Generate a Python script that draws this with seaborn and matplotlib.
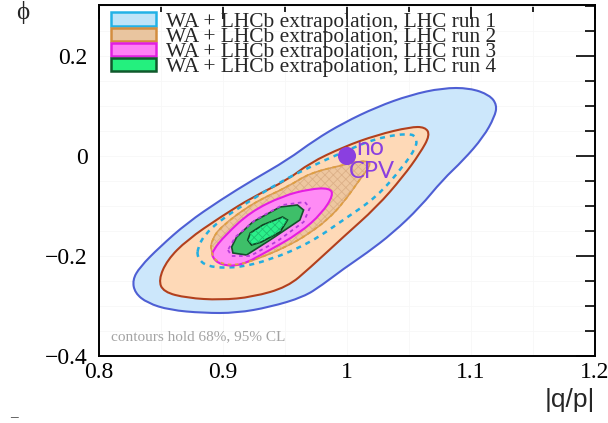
import numpy as np
import matplotlib
matplotlib.use("Agg")
import matplotlib.pyplot as plt
import matplotlib.patches as mpatches
from matplotlib.path import Path
from matplotlib.ticker import MultipleLocator, FuncFormatter
import seaborn as sns

# contour outlines: (|q/p|, phi) vertices
run1_95_x = [0.827, 0.829, 0.839, 0.857, 0.884, 0.911, 0.938, 0.965, 0.980, 0.997, 1.016, 1.037,
             1.059, 1.077, 1.094, 1.110, 1.119, 1.121, 1.115, 1.099, 1.077, 1.051, 1.024, 0.997,
             0.974, 0.952, 0.924, 0.898, 0.871, 0.849, 0.833]
run1_95_y = [-0.248, -0.274, -0.294, -0.308, -0.314, -0.314, -0.302, -0.282, -0.258, -0.226, -0.194, -0.154,
             -0.102, -0.048, -0.008, 0.038, 0.078, 0.102, 0.122, 0.136, 0.136, 0.122, 0.098, 0.066,
             0.032, -0.008, -0.048, -0.088, -0.134, -0.182, -0.222]

run1_68_x = [0.879, 0.887, 0.911, 0.938, 0.970, 0.997, 1.024, 1.045, 1.056, 1.056, 1.051, 1.024,
             0.997, 0.970, 0.946, 0.919, 0.898, 0.885, 0.880]
run1_68_y = [-0.202, -0.222, -0.224, -0.208, -0.174, -0.128, -0.082, -0.022, 0.018, 0.036, 0.046, 0.036,
             0.008, -0.022, -0.052, -0.094, -0.128, -0.158, -0.182]

run2_95_x = [0.848, 0.852, 0.871, 0.898, 0.924, 0.952, 0.970, 0.997, 1.024, 1.045, 1.059, 1.067,
             1.063, 1.051, 1.024, 0.997, 0.970, 0.952, 0.924, 0.898, 0.871, 0.855]
run2_95_y = [-0.248, -0.272, -0.284, -0.288, -0.282, -0.262, -0.224, -0.162, -0.102, -0.042, 0.006, 0.042,
             0.058, 0.058, 0.042, 0.018, -0.014, -0.048, -0.082, -0.122, -0.168, -0.208]

run2_68_x = [0.890, 0.894, 0.910, 0.930, 0.954, 0.970, 0.984, 0.997, 1.010, 1.021, 1.010, 0.997,
             0.970, 0.952, 0.924, 0.898, 0.891]
run2_68_y = [-0.188, -0.212, -0.220, -0.204, -0.178, -0.154, -0.128, -0.094, -0.048, -0.012, -0.010, -0.018,
             -0.034, -0.062, -0.094, -0.142, -0.168]

run3_95_x = [0.891, 0.898, 0.914, 0.935, 0.962, 0.980, 0.989, 0.986, 0.970, 0.948, 0.922, 0.902, 0.892]
run3_95_y = [-0.202, -0.218, -0.220, -0.192, -0.154, -0.114, -0.078, -0.064, -0.066, -0.080, -0.112, -0.158, -0.188]

run3_68_x = [0.904, 0.907, 0.922, 0.944, 0.965, 0.970, 0.966, 0.948, 0.926, 0.910]
run3_68_y = [-0.188, -0.200, -0.200, -0.170, -0.132, -0.104, -0.092, -0.098, -0.128, -0.162]

run4_95_x = [0.907, 0.908, 0.919, 0.938, 0.962, 0.965, 0.960, 0.946, 0.924, 0.911]
run4_95_y = [-0.182, -0.194, -0.198, -0.168, -0.128, -0.108, -0.098, -0.102, -0.132, -0.162]

run4_68_x = [0.920, 0.922, 0.932, 0.948, 0.952, 0.946, 0.931, 0.923]
run4_68_y = [-0.168, -0.154, -0.138, -0.122, -0.128, -0.152, -0.172, -0.178]

no_cpv_x = [1.0]
no_cpv_y = [0.0]

legend_labels = ["WA + LHCb extrapolation, LHC run 1",
                 "WA + LHCb extrapolation, LHC run 2",
                 "WA + LHCb extrapolation, LHC run 3",
                 "WA + LHCb extrapolation, LHC run 4"]
legend_faces = ["#bfe4f8", "#e9c59f", "#ff80f5", "#24f07e"]
legend_edges = ["#22b2e6", "#d38d3e", "#e21fe0", "#10592c"]

x_ticks = [0.8, 0.9, 1.0, 1.1, 1.2]
y_ticks = [-0.4, -0.2, 0.0, 0.2]

sns.set_style("white")
plt.rcParams["font.family"] = ["Liberation Serif", "DejaVu Serif"]
plt.rcParams["hatch.linewidth"] = 0.6

fig = plt.figure(figsize=(6.08, 4.23), dpi=100)
ax = fig.add_axes([0.1628, 0.1584, 0.8158, 0.8298])


def contour_path(xs, ys, smooth=True):
    pts = np.column_stack([xs, ys])
    if not smooth:
        return Path(np.vstack([pts, pts[:1]]), closed=True)
    # closed quadratic spline using the read vertices as control points
    mids = (pts + np.roll(pts, -1, axis=0)) / 2
    verts = [mids[-1]]
    codes = [Path.MOVETO]
    for p, m in zip(pts, mids):
        verts += [p, m]
        codes += [Path.CURVE3, Path.CURVE3]
    return Path(verts, codes)


def region(xs, ys, face, edge, lw=1.4, hatch=None, hatch_color=None, z=2, smooth=True):
    path = contour_path(xs, ys, smooth)
    ax.add_patch(mpatches.PathPatch(path, facecolor=face, edgecolor=edge, linewidth=lw, zorder=z))
    if hatch:
        ax.add_patch(mpatches.PathPatch(path, facecolor="none", edgecolor=hatch_color, linewidth=0,
                                        hatch=hatch, zorder=z + 0.1))


def outline(xs, ys, color, lw=1.8, dash=(0, (2, 2)), z=6, smooth=True):
    path = contour_path(xs, ys, smooth)
    ax.add_patch(mpatches.PathPatch(path, facecolor="none", edgecolor=color, linewidth=lw,
                                    linestyle=dash, zorder=z))


region(run1_95_x, run1_95_y, "#cce7fb", "#4e5fd4", lw=1.5, z=1)
region(run2_95_x, run2_95_y, "#fed9b7", "#b2401d", lw=1.5, z=2)
outline(run1_68_x, run1_68_y, "#23aee0", lw=1.8, z=2.5)
region(run2_68_x, run2_68_y, "#eec7a0", "#d79a55", lw=1.2, hatch="xxxx", hatch_color="#dcb088", z=3)
region(run3_95_x, run3_95_y, "#ff8bf5", "#e51de2", lw=1.5, z=4)
outline(run2_68_x, run2_68_y, "#e0a040", lw=1.3, dash=(0, (2, 2)), z=4.5)
region(run4_95_x, run4_95_y, "#3ebf69", "#15502b", lw=1.2, z=5, smooth=False)
outline(run3_68_x, run3_68_y, "#b53cd8", lw=1.3, dash=(0, (2, 2)), z=5.5, smooth=False)
region(run4_68_x, run4_68_y, "#2bf08a", "#0f4322", lw=1.2, hatch="xxxx", hatch_color="#20c070",
       z=6, smooth=False)

sns.scatterplot(x=no_cpv_x, y=no_cpv_y, ax=ax, s=170, color="#8a3fe0", edgecolor="none", zorder=8)
ax.text(1.0075, 0.016, "no", color="#8a3fe0", fontsize=18, family=["Lato", "DejaVu Sans"],
        ha="left", va="center", zorder=8)
ax.text(1.0015, -0.031, "CPV", color="#8a3fe0", fontsize=17, family=["Lato", "DejaVu Sans"],
        ha="left", va="center", zorder=8)

ax.text(0.024, 0.054, "contours hold 68%, 95% CL", transform=ax.transAxes, color="#a3a3a3",
        fontsize=11, ha="left", va="center")

handles = [mpatches.Patch(facecolor=f, edgecolor=e, linewidth=1.8) for f, e in zip(legend_faces, legend_edges)]
ax.legend(handles, legend_labels, loc="upper left", bbox_to_anchor=(0.01, 1.0), frameon=False,
          fontsize=15.4, labelspacing=-0.2, handlelength=2.1, handleheight=0.6, handletextpad=0.45,
          borderpad=0.35, borderaxespad=0)

ax.set_xlim(0.8, 1.2)
ax.set_ylim(-0.4, 0.302)
ax.set_xticks(x_ticks)
ax.set_yticks(y_ticks)
ax.xaxis.set_minor_locator(MultipleLocator(0.05))
ax.yaxis.set_minor_locator(MultipleLocator(0.05))
fmt = FuncFormatter(lambda v, p: f"{v:g}".replace("-", "\u2212"))
ax.xaxis.set_major_formatter(fmt)
ax.yaxis.set_major_formatter(fmt)
ax.tick_params(which="both", direction="in", top=True, right=True, colors="black", labelsize=17)
ax.tick_params(axis="x", which="major", length=10, width=1.2, pad=4)
ax.tick_params(axis="x", which="minor", length=5, width=1.2)
ax.tick_params(axis="y", which="major", length=14, width=1.2, pad=8)
ax.tick_params(axis="y", which="minor", length=7, width=1.2)
for sp in ax.spines.values():
    sp.set_linewidth(1.4)
    sp.set_color("black")
    sp.set_zorder(10)
ax.grid(which="both", color="#f7f7f7", linewidth=0.6, zorder=0)
ax.set_axisbelow(True)

ax.text(1.0, -0.125, "|q/p|", transform=ax.transAxes, ha="right", va="center",
        fontsize=19, family=["Liberation Sans", "DejaVu Sans"])
ax.text(-0.153, 0.98, "\u03d5", transform=ax.transAxes, ha="center", va="center", fontsize=18)
fig.text(0.023, 0.012, "\u2013", ha="center", va="center", fontsize=11, color="#333333")

fig.savefig("out.png", dpi=100)
